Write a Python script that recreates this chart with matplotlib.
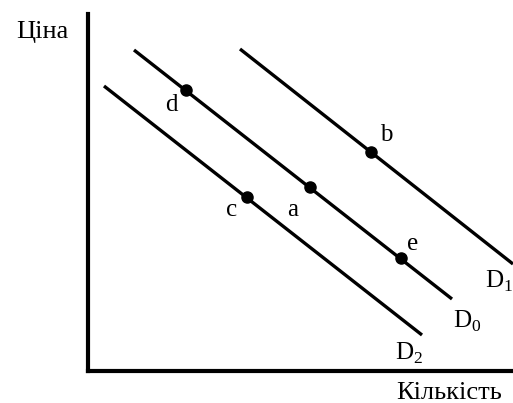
import matplotlib
matplotlib.use("Agg")
from matplotlib import pyplot as plt

# Demand curves (quantity, price) endpoints
d0_q = [46, 364]
d0_p = [321, 72]
d1_q = [152, 425]
d1_p = [322, 107]
d2_q = [16, 334]
d2_p = [285, 36]

# Marked points
point_names = ["d", "b", "a", "c", "e"]
point_q = [98, 283, 222, 159, 313]
point_p = [281, 219, 184, 174, 113]
label_q = [83, 298, 205, 144, 325]
label_p = [266, 236, 161, 161, 127]

curve_names = [r"$\mathrm{D}_1$", r"$\mathrm{D}_0$", r"$\mathrm{D}_2$"]
curve_label_q = [411, 379, 321]
curve_label_p = [90, 50, 18]

plt.rcParams['font.family'] = ['Liberation Serif', 'DejaVu Serif']
plt.rcParams['mathtext.fontset'] = 'custom'
plt.rcParams['mathtext.rm'] = 'Liberation Serif'

fig = plt.figure(figsize=(5.13, 4.03), dpi=100)
ax = fig.add_axes([88 / 513, 32 / 403, 425 / 513, 357 / 403])
ax.set_xlim(0, 425)
ax.set_ylim(0, 357)

for q, p in [(d0_q, d0_p), (d1_q, d1_p), (d2_q, d2_p)]:
    ax.plot(q, p, color="black", lw=2.4, solid_capstyle="butt", clip_on=False)

ax.plot(point_q, point_p, "o", color="black", markersize=8)

for name, q, p in zip(point_names, label_q, label_p):
    ax.text(q, p, name, fontsize=18, ha="center", va="center")

for name, q, p in zip(curve_names, curve_label_q, curve_label_p):
    ax.text(q, p, name, fontsize=18, ha="center", va="center")

ax.text(-46, 339, "Ціна", fontsize=19, ha="center", va="center")
ax.text(361, -22, "Кількість", fontsize=19, ha="center", va="center")

for side in ["top", "right"]:
    ax.spines[side].set_visible(False)
ax.spines["left"].set_linewidth(3)
ax.spines["bottom"].set_linewidth(3)
ax.set_xticks([])
ax.set_yticks([])

fig.savefig("out.png", dpi=100)
